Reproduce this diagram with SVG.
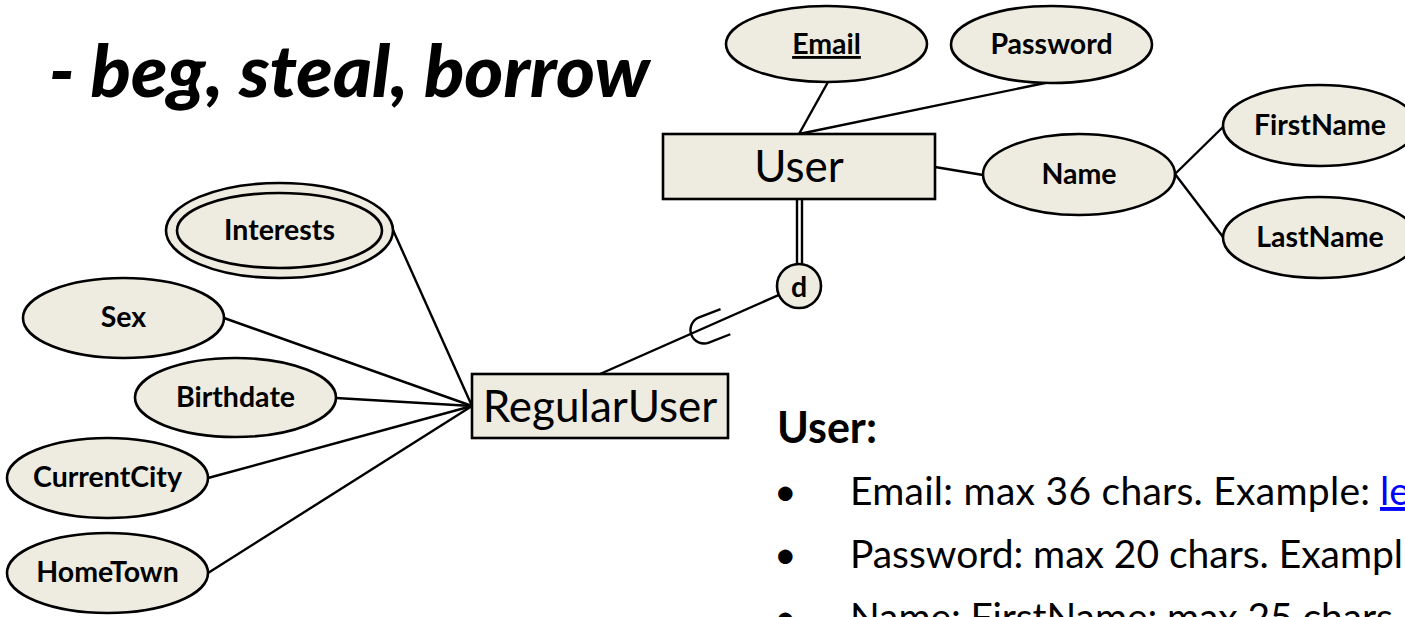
<svg xmlns="http://www.w3.org/2000/svg" width="1405" height="617" viewBox="0 0 1405 617">
<style>
  .attr { fill: #EEECE1; stroke: #000; stroke-width: 2.6; }
  .ent { fill: #EEECE1; stroke: #000; stroke-width: 2.6; }
  .lbl { font-family: Lato, "Liberation Sans", sans-serif; font-weight: bold; font-size: 28.5px; text-anchor: middle; fill: #000; }
  .ename { font-family: Lato, "Liberation Sans", sans-serif; font-size: 44px; text-anchor: middle; fill: #000; }
  .conn line, .conn path { stroke: #000; stroke-width: 2.4; fill: none; }
  .body { font-family: Lato, "Liberation Sans", sans-serif; font-size: 39px; }
</style>
<rect width="1405" height="617" fill="#FFFFFF"/>

<text id="title" x="49" y="97" font-family="Lato, 'Liberation Sans', sans-serif" font-weight="900" font-style="italic" font-size="72" textLength="601" lengthAdjust="spacingAndGlyphs" fill="#000">- beg, steal, borrow</text>

<g class="conn" id="connectors">
  <line x1="828" y1="82" x2="799" y2="134"/>
  <line x1="1050" y1="82" x2="799" y2="134"/>
  <line x1="935" y1="167" x2="983" y2="175"/>
  <line x1="1175" y1="174" x2="1223" y2="127"/>
  <line x1="1175" y1="174" x2="1223" y2="237"/>
  <line x1="797" y1="199" x2="797" y2="265"/>
  <line x1="802" y1="199" x2="802" y2="265"/>
  <line x1="600" y1="374" x2="799" y2="286"/>
  <path d="M 23,-13.5 L 0,-13.5 A 13.5 13.5 0 0 0 0,13.5 L 23,13.5" transform="translate(704,330) rotate(-21.25)"/>
  <line x1="393" y1="230" x2="472" y2="406"/>
  <line x1="224" y1="318" x2="472" y2="406"/>
  <line x1="336" y1="398" x2="472" y2="406"/>
  <line x1="208" y1="478" x2="472" y2="406"/>
  <line x1="208" y1="573" x2="472" y2="406"/>
</g>

<g id="node-user">
  <rect class="ent" x="663" y="134" width="272" height="65"/>
  <text class="ename" x="799" y="182">User</text>
</g>
<g id="node-email">
  <ellipse class="attr" cx="826.5" cy="44" rx="100.5" ry="38"/>
  <text class="lbl" x="826.5" y="54" text-decoration="underline">Email</text>
</g>
<g id="node-password">
  <ellipse class="attr" cx="1051.5" cy="44.5" rx="100.5" ry="38.5"/>
  <text class="lbl" x="1051.5" y="54">Password</text>
</g>
<g id="node-name">
  <ellipse class="attr" cx="1079" cy="174.5" rx="96" ry="40.5"/>
  <text class="lbl" x="1079" y="184">Name</text>
</g>
<g id="node-firstname">
  <ellipse class="attr" cx="1320" cy="125.5" rx="97" ry="40.5"/>
  <text class="lbl" x="1320" y="135">FirstName</text>
</g>
<g id="node-lastname">
  <ellipse class="attr" cx="1320" cy="237.5" rx="97" ry="40.5"/>
  <text class="lbl" x="1320" y="247">LastName</text>
</g>
<g id="node-d">
  <circle class="attr" cx="799" cy="286" r="22"/>
  <text class="lbl" x="799" y="297" font-size="32">d</text>
</g>
<g id="node-regularuser">
  <rect class="ent" x="472" y="374" width="256" height="64"/>
  <text class="ename" x="600" y="422">RegularUser</text>
</g>
<g id="node-interests">
  <ellipse class="attr" cx="279.5" cy="230.5" rx="113.5" ry="47.5"/>
  <ellipse class="attr" cx="279.5" cy="230.5" rx="102.5" ry="37.5"/>
  <text class="lbl" x="279.5" y="240">Interests</text>
</g>
<g id="node-sex">
  <ellipse class="attr" cx="123.5" cy="318" rx="100.5" ry="40"/>
  <text class="lbl" x="123.5" y="327">Sex</text>
</g>
<g id="node-birthdate">
  <ellipse class="attr" cx="235.5" cy="397.5" rx="100.5" ry="39.5"/>
  <text class="lbl" x="235.5" y="407">Birthdate</text>
</g>
<g id="node-currentcity">
  <ellipse class="attr" cx="107.5" cy="478" rx="100.5" ry="40"/>
  <text class="lbl" x="107.5" y="487">CurrentCity</text>
</g>
<g id="node-hometown">
  <ellipse class="attr" cx="107.5" cy="573" rx="100.5" ry="40"/>
  <text class="lbl" x="107.5" y="582">HomeTown</text>
</g>

<g id="notes">
  <text x="777" y="443" font-family="Lato, 'Liberation Sans', sans-serif" font-weight="bold" font-size="43" fill="#000">User:</text>
  <text class="body" x="774" y="505" fill="#000" font-size="44">•</text>
  <text class="body" x="850" y="505" fill="#000" textLength="520">Email: max 36 chars. Example:</text>
  <text class="body" x="1380" y="505" style="fill:#0000FF" text-decoration="underline">le</text>
  <text class="body" x="774" y="568" fill="#000" font-size="44">•</text>
  <text class="body" x="850" y="568" fill="#000" textLength="553">Password: max 20 chars. Exampl</text>
  <text class="body" x="774" y="631" fill="#000" font-size="44">•</text>
  <text class="body" x="850" y="631" fill="#000" textLength="543">Name: FirstName: max 25 chars</text>
</g>
</svg>
